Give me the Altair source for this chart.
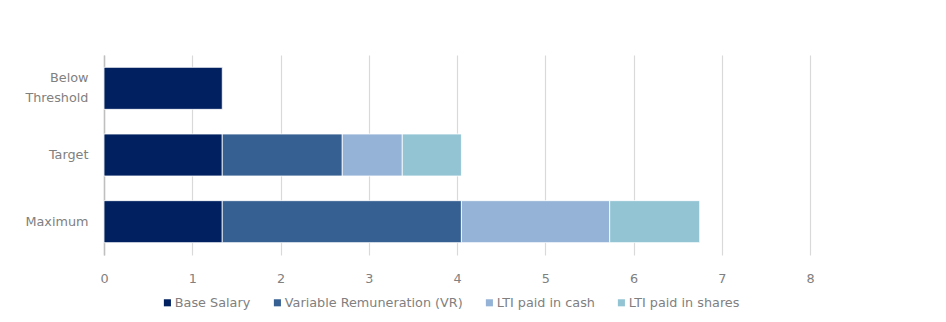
import altair as alt
import pandas as pd

categories = ["Below Threshold", "Target", "Maximum"]
components = ["Base Salary", "Variable Remuneration (VR)", "LTI paid in cash", "LTI paid in shares"]
base_salary = [1.34, 1.34, 1.34]
variable_rem = [0.0, 1.36, 2.71]
lti_cash = [0.0, 0.68, 1.68]
lti_shares = [0.0, 0.67, 1.02]
colors = ["#002060", "#366092", "#95B3D7", "#92C4D4"]

rows = []
series = [base_salary, variable_rem, lti_cash, lti_shares]
for ci, cat in enumerate(categories):
    for si, comp in enumerate(components):
        v = series[si][ci]
        if v > 0:
            rows.append({"category": cat, "component": comp, "value": v, "order": si})
df = pd.DataFrame(rows)

font = "DejaVu Sans"
label_color = "#808080"
fs = 12.8
chart = alt.Chart(df).mark_bar(stroke="white", strokeWidth=0.8).encode(
    y=alt.Y("category:N", sort=categories, title=None,
            scale=alt.Scale(paddingInner=0.37, paddingOuter=0.185),
            axis=alt.Axis(labelExpr="datum.value == 'Below Threshold' ? ['Below', 'Threshold'] : datum.label",
                          ticks=False, domain=True, domainColor="#BFBFBF", domainWidth=1.5,
                          labelPadding=16, labelFontSize=fs, labelColor=label_color, labelFont=font,
                          labelLineHeight=20, labelLimit=0,
                          labelOffset={"condition": {"test": "datum.value == 'Below Threshold'", "value": -10}, "value": 0})),
    x=alt.X("value:Q", title=None,
            scale=alt.Scale(domain=[0, 8], nice=False),
            axis=alt.Axis(values=[0, 1, 2, 3, 4, 5, 6, 7, 8], format="d", grid=True, labelFlush=False,
                          gridColor="#D9D9D9", gridWidth=1.2, domain=False, ticks=False,
                          labelPadding=17, labelFontSize=fs, labelColor=label_color, labelFont=font)),
    color=alt.Color("component:N", sort=components,
                    scale=alt.Scale(domain=components, range=colors),
                    legend=alt.Legend(orient="none", legendX=57, legendY=241, direction="horizontal", title=None,
                                      symbolType="square", symbolSize=50, symbolStrokeWidth=0,
                                      labelFontSize=fs, labelColor=label_color, labelFont=font, labelLimit=0,
                                      columnPadding=20, symbolOffset=0, labelOffset=1)),
    order=alt.Order("order:Q"),
).properties(
    width=706, height=200,
    autosize=alt.AutoSizeParams(type="none"),
    padding={"left": 104, "top": 55, "right": 136, "bottom": 67},
).configure_view(stroke=None)

chart.save("out.html", embed_options={"renderer": "svg", "actions": False})
